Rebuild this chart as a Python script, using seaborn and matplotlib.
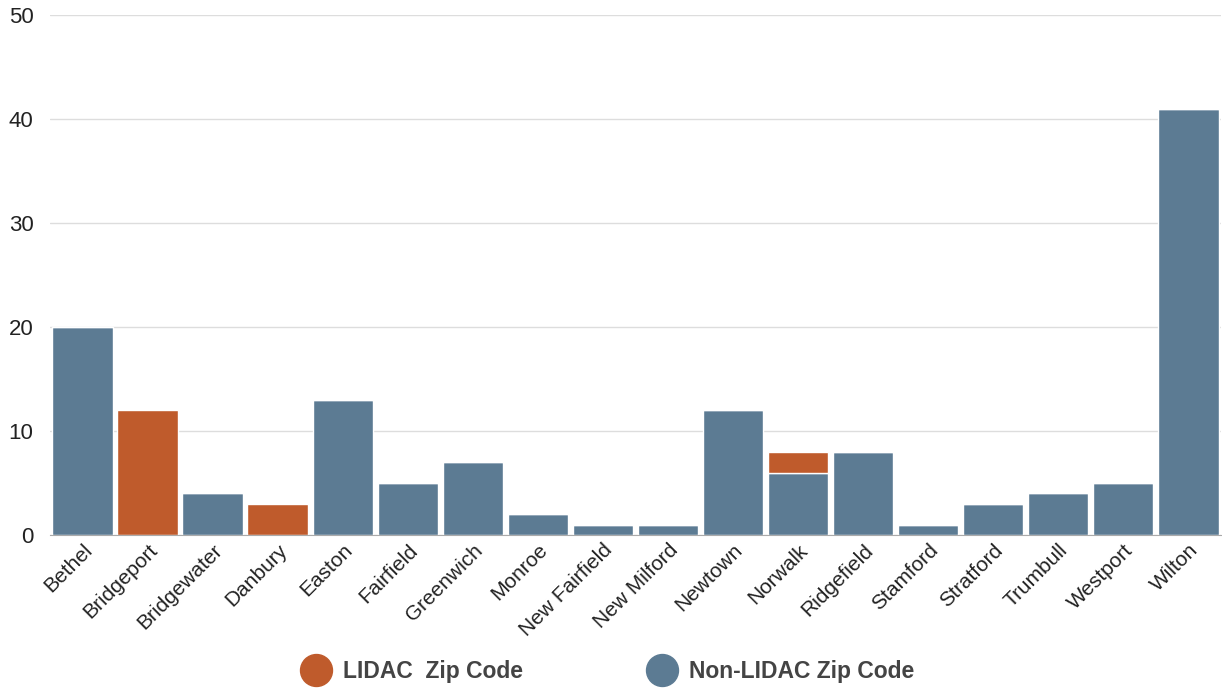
import matplotlib
matplotlib.use("Agg")
import matplotlib.pyplot as plt
from matplotlib.lines import Line2D
import seaborn as sns
import pandas as pd

# Town categories and counts per zip code type
towns = ["Bethel", "Bridgeport", "Bridgewater", "Danbury", "Easton", "Fairfield",
         "Greenwich", "Monroe", "New Fairfield", "New Milford", "Newtown", "Norwalk",
         "Ridgefield", "Stamford", "Stratford", "Trumbull", "Westport", "Wilton"]
non_lidac = [20, 0, 4, 0, 13, 5, 7, 2, 1, 1, 12, 6, 8, 1, 3, 4, 5, 41]
lidac = [0, 12, 0, 3, 0, 0, 0, 0, 0, 0, 0, 2, 0, 0, 0, 0, 0, 0]
legend_labels = ["LIDAC  Zip Code", "Non-LIDAC Zip Code"]

BLUE = "#5c7b93"
ORANGE = "#bf5b2c"

df = pd.DataFrame({"town": towns, "non_lidac": non_lidac, "lidac": lidac})

sns.set_style("white")
plt.rcParams["font.family"] = ["Liberation Sans", "DejaVu Sans"]

fig = plt.figure(figsize=(12.22, 6.89), dpi=100)
ax = fig.add_axes([0.041, 0.2235, 0.958, 0.7545])

sns.barplot(data=df, x="town", y="non_lidac", color=BLUE, width=0.93,
            saturation=1, ax=ax, zorder=3)
sns.barplot(data=df, x="town", y="lidac", color=ORANGE, width=0.93,
            saturation=1, ax=ax, bottom=df["non_lidac"], zorder=3)

ax.set_ylim(0, 50)
ax.set_xlim(-0.5, len(towns) - 0.5)
ax.set_yticks([0, 10, 20, 30, 40, 50])
ax.yaxis.grid(True, color="#dddddd", linewidth=1, zorder=0)
ax.set_xlabel("")
ax.set_ylabel("")

for side in ["top", "right", "left"]:
    ax.spines[side].set_visible(False)
ax.spines["bottom"].set_color("#aaaaaa")
ax.spines["bottom"].set_zorder(4)

ax.tick_params(axis="y", length=0, labelsize=16, pad=12, labelcolor="#222222")
ax.tick_params(axis="x", length=0, labelsize=15, pad=4, labelcolor="#222222")
plt.setp(ax.get_xticklabels(), rotation=45, ha="right", rotation_mode="anchor")

handles = [
    Line2D([], [], marker="o", linestyle="", markersize=23, color=ORANGE),
    Line2D([], [], marker="o", linestyle="", markersize=23, color=BLUE),
]
leg = fig.legend(handles, legend_labels, loc="center", bbox_to_anchor=(0.494, 0.025),
                 ncol=2, frameon=False, columnspacing=5.1, handletextpad=0.15,
                 prop={"size": 16.5, "weight": "bold"})
for t in leg.get_texts():
    t.set_color("#444444")

fig.savefig("out.png", dpi=100)
